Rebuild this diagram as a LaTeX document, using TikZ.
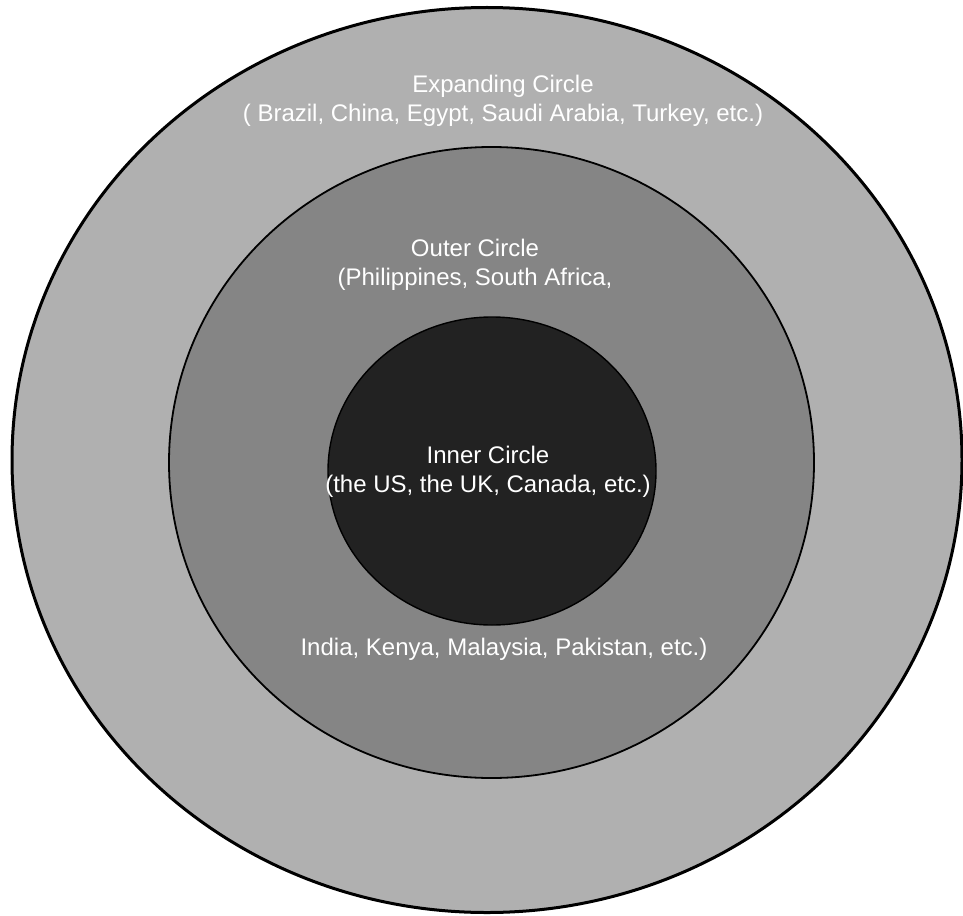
\documentclass[tikz,border=0pt]{standalone}
\usepackage{fontspec}
\setmainfont{Liberation Sans}
\usetikzlibrary{shapes.geometric}
\definecolor{cRingOut}{HTML}{B0B0B0}
\definecolor{cRingMid}{HTML}{858585}
\definecolor{cRingIn}{HTML}{222222}
\definecolor{cInk}{HTML}{000000}

\begin{document}
\begin{tikzpicture}[
  x=1pt, y=-1pt,
  font=\fontsize{24}{29.5}\selectfont,
  ring/.style={ellipse, draw=cInk, inner sep=0pt, outer sep=0pt},
  lab/.style={text=white, align=center, inner sep=0pt},
]

% ---- Canvas ----
\useasboundingbox (0,0) rectangle (963,915);

% ---- Rings (outside in) ----
\node[ring, fill=cRingOut, line width=3pt,
  minimum width=950, minimum height=905] (expand) at (487,460) {};
\node[ring, fill=cRingMid, line width=1.8pt,
  minimum width=645, minimum height=631] (outer) at (491.5,462.5) {};
\node[ring, fill=cRingIn, line width=1.4pt,
  minimum width=328, minimum height=308] (inner) at (492,471) {};

% ---- Labels ----
\node[lab] (expandlab) at (503,101)
  {Expanding Circle\\( Brazil, China, Egypt, Saudi Arabia, Turkey, etc.)};
\node[lab] (outerlab) at (475,265)
  {Outer Circle\\(Philippines, South Africa,};
\node[lab] (innerlab) at (488,472)
  {Inner Circle\\(the US, the UK, Canada, etc.)};
\node[lab] (outerlabb) at (504,649)
  {India, Kenya, Malaysia, Pakistan, etc.)};

\end{tikzpicture}
\end{document}
